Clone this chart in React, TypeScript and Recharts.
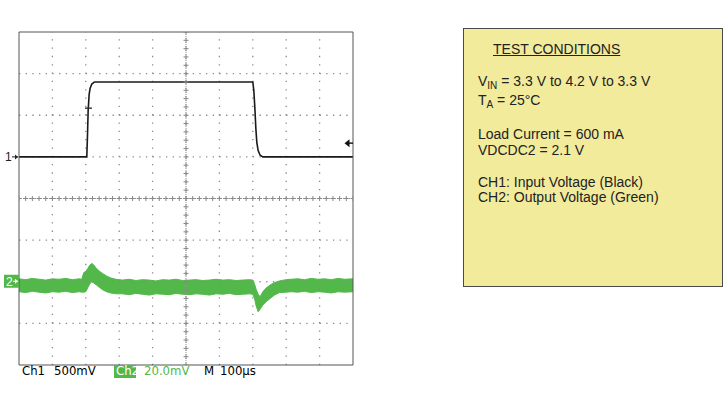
import React from "react";
import {
  ComposedChart,
  Line,
  Area,
  Scatter,
  XAxis,
  YAxis,
  ReferenceLine,
  ReferenceDot,
} from "recharts";

const GREEN = "#52b84a";

// time axis in µs (M 100µs/div, 10 divisions)
const minorTimeTicks = [
  0, 20, 40, 60, 80, 100, 120, 140, 160, 180, 200, 220, 240, 260, 280, 300, 320, 340, 360, 380, 400,
  420, 440, 460, 480, 500, 520, 540, 560, 580, 600, 620, 640, 660, 680, 700, 720, 740, 760, 780, 800,
  820, 840, 860, 880, 900, 920, 940, 960, 980, 1000,
];
const majorTimeLines = [100, 200, 300, 400, 600, 700, 800, 900];

// vertical axis in screen divisions (8 divisions)
const minorDivTicks = [
  -4, -3.8, -3.6, -3.4, -3.2, -3, -2.8, -2.6, -2.4, -2.2, -2, -1.8, -1.6, -1.4, -1.2, -1, -0.8, -0.6,
  -0.4, -0.2, 0, 0.2, 0.4, 0.6, 0.8, 1, 1.2, 1.4, 1.6, 1.8, 2, 2.2, 2.4, 2.6, 2.8, 3, 3.2, 3.4, 3.6,
  3.8, 4,
];
const majorDivLines = [-3, -2, -1, 1, 2, 3];

// CH1: input voltage (500mV/div), 3.3 V -> 4.2 V -> 3.3 V
const ch1Time = [0, 203, 205, 207, 210, 213, 218, 226, 400, 600, 700, 703, 706, 709, 712, 716, 722, 730, 1000];
const ch1Div = [1.0, 1.0, 1.5, 2.1, 2.5, 2.65, 2.75, 2.8, 2.8, 2.8, 2.8, 2.6, 2.2, 1.7, 1.35, 1.15, 1.04, 1.0, 1.0];

// CH2: output voltage (20mV/div), drawn as the noisy band top / bottom
const ch2Time = [
  0, 20, 40, 60, 80, 100, 120, 140, 160, 180, 188,
  194, 200, 206, 212, 218, 224, 232, 240, 250, 262, 275, 290,
  310, 330, 350, 370, 390, 410, 430, 450, 470, 490, 510, 530, 550, 570, 590, 610, 630, 650, 670, 690,
  700, 705, 710, 716, 722, 730, 740, 752, 765, 780, 800, 815,
  835, 855, 875, 895, 915, 935, 955, 975, 1000,
];
const ch2Top = [
  -1.93, -1.95, -1.92, -1.94, -1.96, -1.93, -1.94, -1.92, -1.95, -1.93, -1.94,
  -1.78, -1.75, -1.68, -1.6, -1.56, -1.6, -1.68, -1.74, -1.8, -1.86, -1.91, -1.94,
  -1.96, -1.94, -1.97, -1.95, -1.96, -1.98, -1.95, -1.96, -1.94, -1.97, -1.96, -1.95, -1.97, -1.96, -1.94, -1.96, -1.95, -1.97, -1.96, -1.95,
  -1.96, -2.05, -2.18, -2.3, -2.36, -2.24, -2.15, -2.08, -2.02, -1.98, -1.95, -1.94,
  -1.93, -1.95, -1.92, -1.94, -1.93, -1.95, -1.92, -1.94, -1.93,
];
const ch2Bottom = [
  -2.24, -2.26, -2.23, -2.25, -2.27, -2.24, -2.25, -2.23, -2.26, -2.24, -2.25,
  -2.25, -2.24, -2.14, -2.05, -2.0, -2.03, -2.08, -2.13, -2.19, -2.24, -2.27, -2.29,
  -2.29, -2.31, -2.28, -2.3, -2.32, -2.29, -2.3, -2.31, -2.28, -2.3, -2.31, -2.29, -2.3, -2.32, -2.29, -2.3, -2.28, -2.31, -2.3, -2.29,
  -2.3, -2.4, -2.58, -2.72, -2.66, -2.56, -2.48, -2.4, -2.32, -2.26, -2.25, -2.24,
  -2.25, -2.23, -2.26, -2.24, -2.25, -2.27, -2.24, -2.25, -2.24,
];

const ch1Offset = 1;
const ch2Offset = -2;
const triggerLevel = 1.33;
const triggerMark = { t: 208, v: 2.17 };

const ch1Rows = ch1Time.map((t, i) => ({ t, v: ch1Div[i] }));
const ch2Rows = ch2Time.map((t, i) => ({ t, band: [ch2Bottom[i], ch2Top[i]] }));
const centerMarks = [
  ...minorTimeTicks.map((t) => ({ t, v: 0 })),
  ...minorDivTicks.map((v) => ({ t: 500, v })),
];

const Cross = (p: any) => (
  <path
    d={`M${p.cx - 2.5},${p.cy}H${p.cx + 2.5}M${p.cx},${p.cy - 2.5}V${p.cy + 2.5}`}
    stroke="#888"
    strokeWidth={1}
  />
);

const Ch1Marker = (p: any) => (
  <g>
    <text x={p.cx - 14} y={p.cy + 4.5} fontSize={12} fontFamily="'Liberation Sans', Arial, sans-serif" fill="#222">
      1
    </text>
    <path d={`M${p.cx - 7},${p.cy}H${p.cx - 1}`} stroke="#222" strokeWidth={1} />
    <path d={`M${p.cx - 1},${p.cy}l-3,-2.5v5z`} fill="#222" />
  </g>
);

const Ch2Marker = (p: any) => (
  <g>
    <rect x={p.cx - 15} y={p.cy - 7} width={15} height={13} fill={GREEN} />
    <text x={p.cx - 13} y={p.cy + 4} fontSize={12} fontFamily="'Liberation Sans', Arial, sans-serif" fill="#fff">
      2
    </text>
    <path d={`M${p.cx - 6},${p.cy - 0.5}H${p.cx - 1}`} stroke="#fff" strokeWidth={1} />
    <path d={`M${p.cx - 1},${p.cy - 0.5}l-3,-2.5v5z`} fill="#fff" />
  </g>
);

const TriggerArrow = (p: any) => (
  <g>
    <path d={`M${p.cx - 8.5},${p.cy}l5,-4v8z`} fill="#111" />
    <path d={`M${p.cx - 4},${p.cy}H${p.cx}`} stroke="#111" strokeWidth={1.4} />
  </g>
);

const TriggerTick = (p: any) => (
  <path d={`M${p.cx - 3.5},${p.cy}H${p.cx + 3.5}`} stroke="#333" strokeWidth={1.4} />
);

const scopeFont = "'Liberation Sans Narrow', 'DejaVu Sans Condensed', 'Liberation Sans', sans-serif";

const lbl = (left: number, text: string, color = "#000") => (
  <span
    style={{
      position: "absolute",
      left,
      top: 364,
      fontFamily: scopeFont,
      fontSize: 13,
      lineHeight: "13px",
      color,
      whiteSpace: "nowrap",
    }}
  >
    {text}
  </span>
);

const boxLine = (top: number, left: number, content: React.ReactNode, extra: React.CSSProperties = {}) => (
  <div
    style={{
      position: "absolute",
      top,
      left,
      fontSize: 14,
      lineHeight: "14px",
      whiteSpace: "nowrap",
      color: "#222",
      ...extra,
    }}
  >
    {content}
  </div>
);

const sub = (s: string) => (
  <span style={{ fontSize: 10, position: "relative", top: 3 }}>{s}</span>
);

export default function App() {
  return (
    <div
      style={{
        position: "absolute",
        left: 0,
        top: 0,
        width: 724,
        height: 403,
        background: "#fff",
        fontFamily: "'Liberation Sans', Arial, sans-serif",
        overflow: "hidden",
      }}
    >
      <div style={{ position: "absolute", left: 0, top: 0 }}>
        <ComposedChart width={370} height={403} margin={{ top: 32, right: 17, bottom: 38, left: 19 }}>
          <XAxis
            xAxisId="b"
            dataKey="t"
            type="number"
            domain={[0, 1000]}
            allowDataOverflow
            orientation="bottom"
            mirror
            ticks={minorTimeTicks}
            interval={0}
            tick={false}
            tickSize={3}
            tickLine={{ stroke: "#777" }}
            axisLine={{ stroke: "#555" }}
          />
          <XAxis
            xAxisId="t"
            dataKey="t"
            type="number"
            domain={[0, 1000]}
            allowDataOverflow
            orientation="top"
            mirror
            ticks={minorTimeTicks}
            interval={0}
            tick={false}
            tickSize={3}
            tickLine={{ stroke: "#777" }}
            axisLine={{ stroke: "#555" }}
          />
          <YAxis
            yAxisId="l"
            type="number"
            domain={[-4, 4]}
            allowDataOverflow
            orientation="left"
            mirror
            ticks={minorDivTicks}
            interval={0}
            tick={false}
            tickSize={3}
            tickLine={{ stroke: "#777" }}
            axisLine={{ stroke: "#555" }}
          />
          <YAxis
            yAxisId="r"
            type="number"
            domain={[-4, 4]}
            allowDataOverflow
            orientation="right"
            mirror
            ticks={minorDivTicks}
            interval={0}
            tick={false}
            tickSize={3}
            tickLine={{ stroke: "#777" }}
            axisLine={{ stroke: "#555" }}
          />

          {majorDivLines.map((v) => (
            <ReferenceLine
              key={"h" + v}
              xAxisId="b"
              yAxisId="l"
              y={v}
              stroke="#8a8a8a"
              strokeWidth={1.3}
              strokeDasharray="1.3 5.38"
            />
          ))}
          {majorTimeLines.map((t) => (
            <ReferenceLine
              key={"v" + t}
              xAxisId="b"
              yAxisId="l"
              x={t}
              stroke="#8a8a8a"
              strokeWidth={1.3}
              strokeDasharray="1.3 7.02"
            />
          ))}
          <ReferenceLine xAxisId="b" yAxisId="l" y={0} stroke="#999" strokeDasharray="1 1" />
          <ReferenceLine xAxisId="b" yAxisId="l" x={500} stroke="#999" strokeDasharray="1 1" />
          <Scatter
            xAxisId="b"
            yAxisId="l"
            data={centerMarks}
            dataKey="v"
            shape={Cross}
            isAnimationActive={false}
          />

          <Area
            xAxisId="b"
            yAxisId="l"
            data={ch2Rows}
            dataKey="band"
            type="linear"
            stroke={GREEN}
            strokeWidth={1}
            fill={GREEN}
            fillOpacity={1}
            dot={false}
            activeDot={false}
            isAnimationActive={false}
          />
          <Line
            xAxisId="b"
            yAxisId="l"
            data={ch1Rows}
            dataKey="v"
            type="linear"
            stroke="#1a1a1a"
            strokeWidth={1.6}
            dot={false}
            activeDot={false}
            isAnimationActive={false}
          />

          <ReferenceDot xAxisId="b" yAxisId="l" x={triggerMark.t} y={triggerMark.v} r={0} shape={TriggerTick} ifOverflow="visible" />
          <ReferenceDot xAxisId="b" yAxisId="l" x={1000} y={triggerLevel} r={0} shape={TriggerArrow} ifOverflow="visible" />
          <ReferenceDot xAxisId="b" yAxisId="l" x={0} y={ch1Offset} r={0} shape={Ch1Marker} ifOverflow="visible" />
          <ReferenceDot xAxisId="b" yAxisId="l" x={0} y={ch2Offset} r={0} shape={Ch2Marker} ifOverflow="visible" />
        </ComposedChart>
      </div>

      {lbl(22, "Ch1")}
      {lbl(54, "500mV")}
      <span
        style={{
          position: "absolute",
          left: 114,
          top: 365,
          width: 22,
          height: 13,
          background: GREEN,
        }}
      />
      {lbl(116, "Ch2", "#fff")}
      {lbl(144, "20.0mV", GREEN)}
      {lbl(204, "M")}
      {lbl(220, "100µs")}

      <div
        style={{
          position: "absolute",
          left: 463,
          top: 28,
          width: 258,
          height: 257,
          background: "#f2eb9b",
          border: "1px solid #4a4a4a",
        }}
      >
        {boxLine(13, 29, "TEST CONDITIONS", { textDecoration: "underline" })}
        {boxLine(45, 14, <>V{sub("IN")} = 3.3 V to 4.2 V to 3.3 V</>)}
        {boxLine(64, 14, <>T{sub("A")} = 25°C</>)}
        {boxLine(98, 14, "Load Current = 600 mA")}
        {boxLine(114, 14, "VDCDC2 = 2.1 V")}
        {boxLine(146, 14, "CH1: Input Voltage (Black)")}
        {boxLine(161, 14, "CH2: Output Voltage (Green)")}
      </div>
    </div>
  );
}
